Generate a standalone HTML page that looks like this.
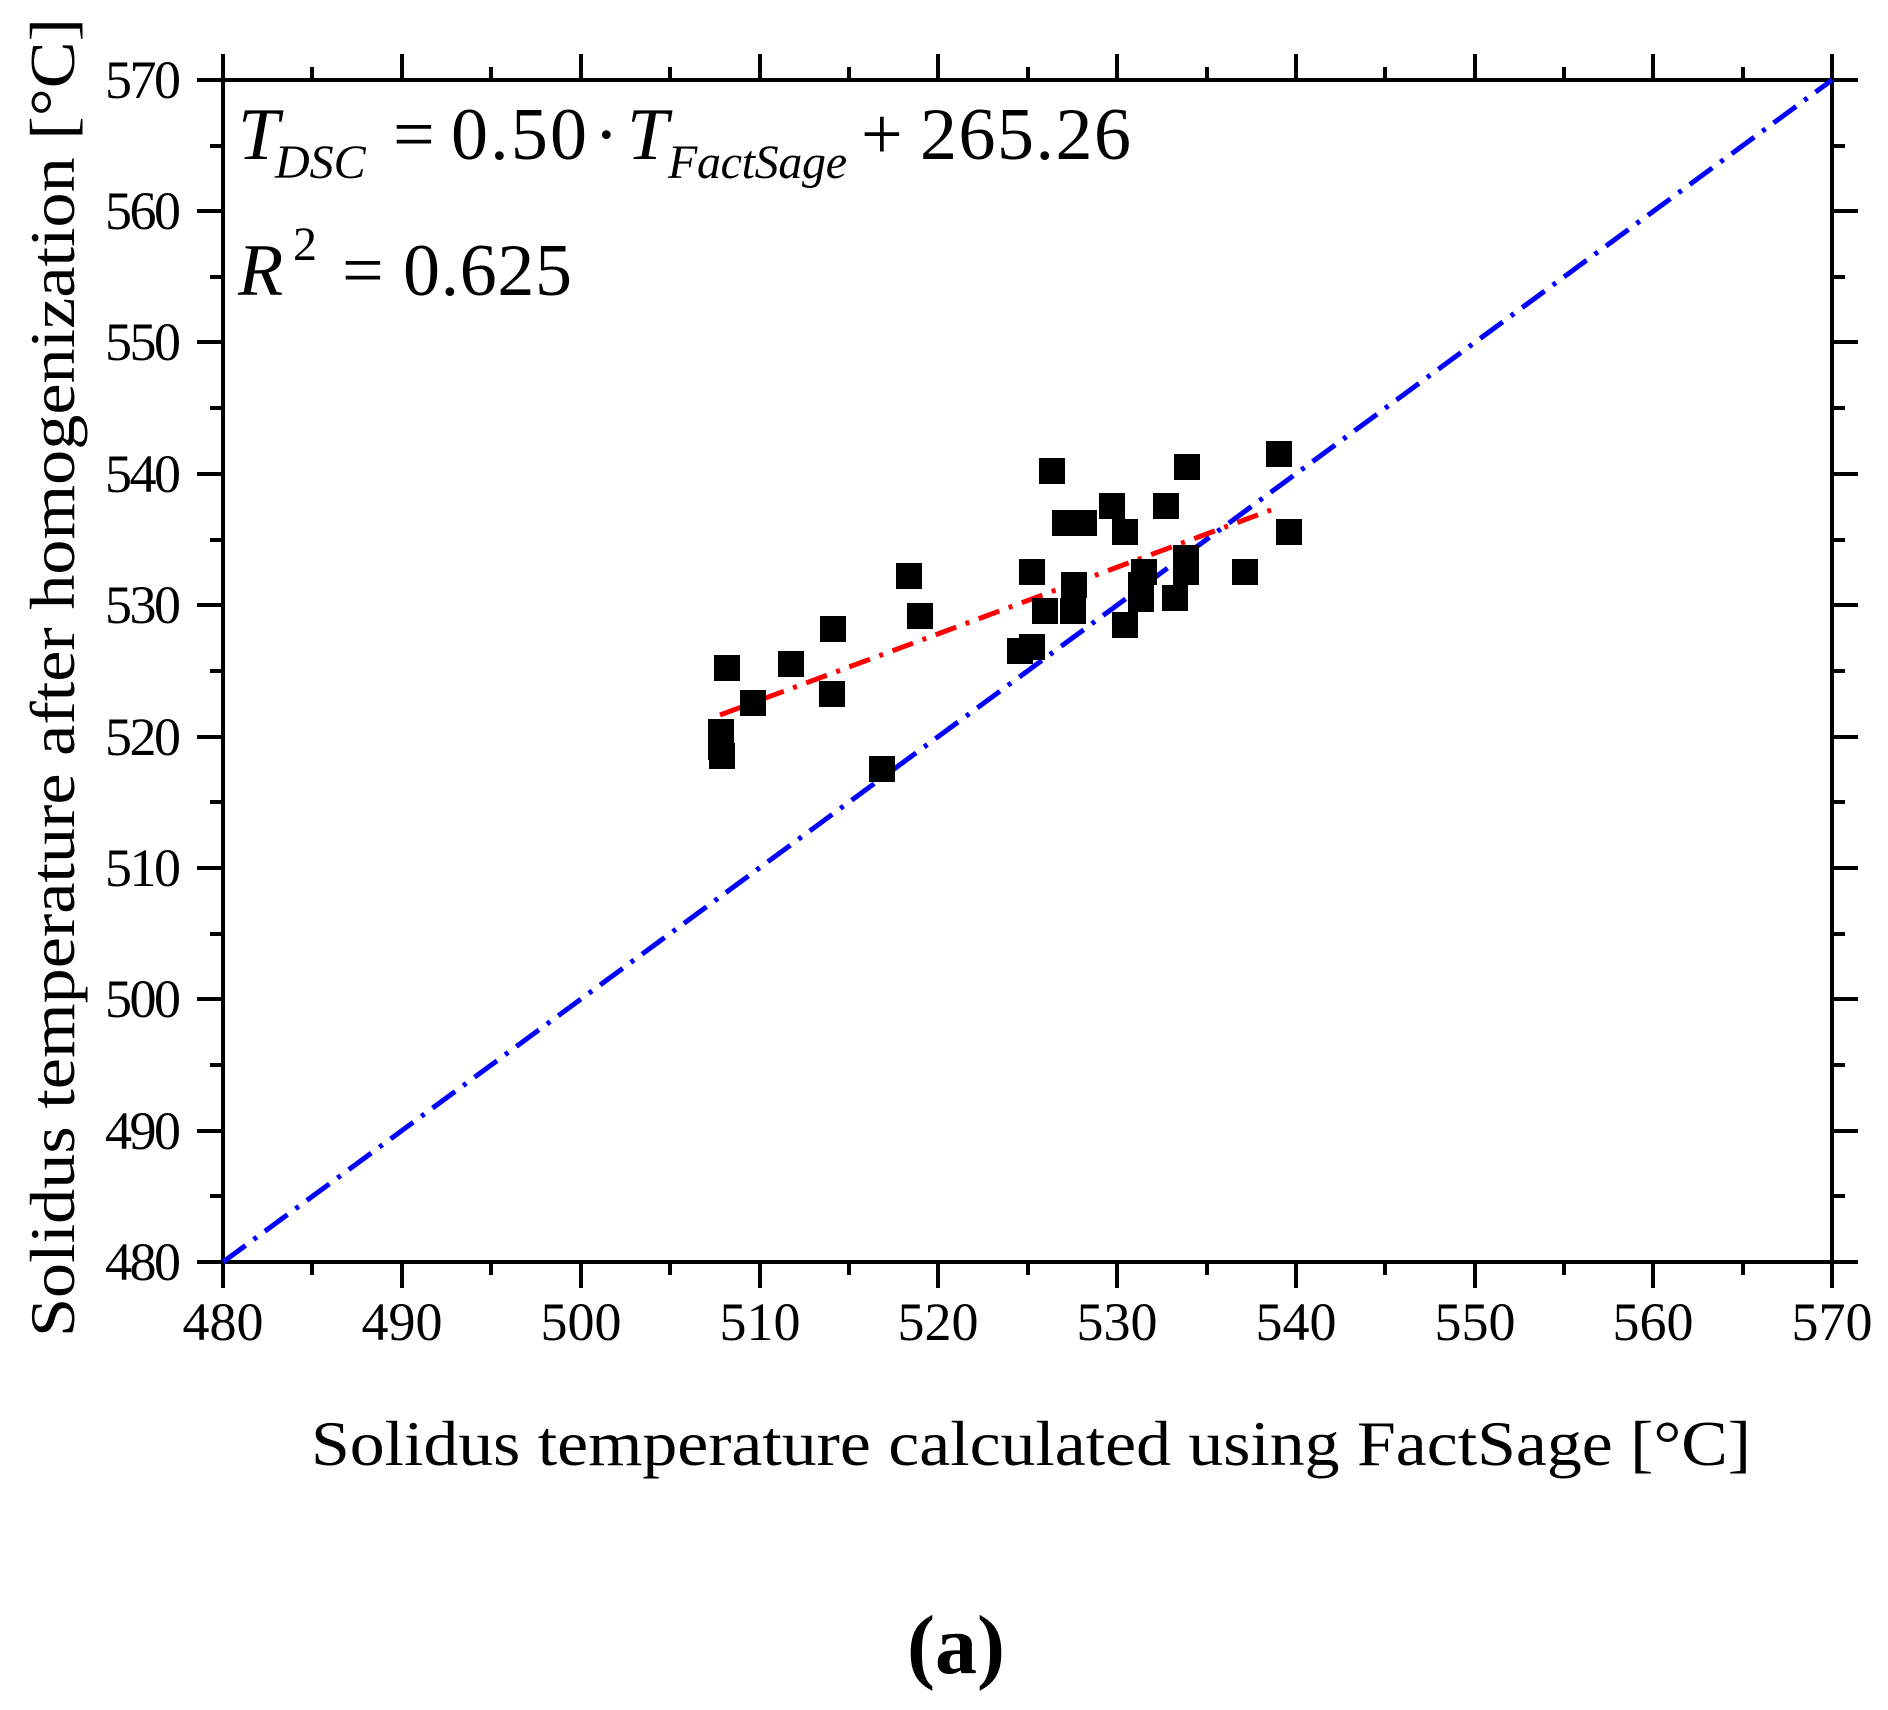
<!DOCTYPE html>
<html><head><style>html,body{margin:0;padding:0;background:#fff}svg{display:block}</style></head>
<body>
<svg width="1888" height="1710" viewBox="0 0 1888 1710" xmlns="http://www.w3.org/2000/svg" font-family="Liberation Serif, serif">
<rect width="1888" height="1710" fill="#fff"/>
<g stroke="#000" stroke-width="4" fill="none">
<rect x="223" y="80" width="1609" height="1182"/>
<path d="M223 1262v26M402 1262v26M581 1262v26M760 1262v26M938 1262v26M1117 1262v26M1296 1262v26M1475 1262v26M1653 1262v26M1832 1262v26
M312 1262v13M491 1262v13M670 1262v13M849 1262v13M1028 1262v13M1207 1262v13M1385 1262v13M1564 1262v13M1743 1262v13
M223 80v-26M402 80v-26M581 80v-26M760 80v-26M938 80v-26M1117 80v-26M1296 80v-26M1475 80v-26M1653 80v-26M1832 80v-26
M312 80v-13M491 80v-13M670 80v-13M849 80v-13M1028 80v-13M1207 80v-13M1385 80v-13M1564 80v-13M1743 80v-13"/>
<path d="M223 80h-26M223 211h-26M223 342h-26M223 474h-26M223 605h-26M223 737h-26M223 868h-26M223 999h-26M223 1131h-26M223 1262h-26
M223 146h-13M223 277h-13M223 408h-13M223 540h-13M223 671h-13M223 802h-13M223 934h-13M223 1065h-13M223 1196h-13
M1832 80h26M1832 211h26M1832 342h26M1832 474h26M1832 605h26M1832 737h26M1832 868h26M1832 999h26M1832 1131h26M1832 1262h26
M1832 146h13M1832 277h13M1832 408h13M1832 540h13M1832 671h13M1832 802h13M1832 934h13M1832 1065h13M1832 1196h13"/>
</g>
<g font-size="54" text-anchor="end">
<text x="181" y="98" textLength="76">570</text><text x="181" y="229" textLength="76">560</text>
<text x="181" y="360" textLength="76">550</text><text x="181" y="492" textLength="76">540</text>
<text x="181" y="623" textLength="76">530</text><text x="181" y="755" textLength="76">520</text>
<text x="181" y="886" textLength="76">510</text><text x="181" y="1017" textLength="76">500</text>
<text x="181" y="1149" textLength="76">490</text><text x="181" y="1280" textLength="76">480</text>
</g>
<g font-size="54" text-anchor="middle">
<text x="223" y="1340">480</text><text x="402" y="1340">490</text><text x="581" y="1340">500</text>
<text x="760" y="1340">510</text><text x="938" y="1340">520</text><text x="1117" y="1340">530</text>
<text x="1296" y="1340">540</text><text x="1475" y="1340">550</text><text x="1653" y="1340">560</text>
<text x="1832" y="1340">570</text>
</g>
<text x="311" y="1465" font-size="64" textLength="1440" lengthAdjust="spacingAndGlyphs">Solidus temperature calculated using FactSage [°C]</text>
<text transform="translate(74,1337) rotate(-90)" font-size="64" textLength="1319" lengthAdjust="spacingAndGlyphs">Solidus temperature after homogenization [°C]</text>
<text x="956" y="1673" font-size="84" text-anchor="middle" font-weight="bold">(a)</text>
<g font-size="74">
<text x="238" y="159" font-style="italic">T</text>
<text x="275" y="178" font-size="48" font-style="italic">DSC</text>
<text x="393" y="159">=</text>
<text x="451" y="159" textLength="136">0.50</text>
<text x="594" y="159">·</text>
<text x="627" y="159" font-style="italic">T</text>
<text x="668" y="178" font-size="48" font-style="italic" textLength="179">FactSage</text>
<text x="861" y="159">+</text>
<text x="920" y="159" textLength="211">265.26</text>
<text x="238" y="295" font-style="italic">R</text>
<text x="293" y="260" font-size="48">2</text>
<text x="342" y="295">=</text>
<text x="403" y="295" textLength="169">0.625</text>
</g>
<line x1="223" y1="1262" x2="1832" y2="80" stroke="#0000ff" stroke-width="5" stroke-dasharray="28,10,4,10"/>
<line x1="720" y1="715" x2="1279" y2="507" stroke="#ff0000" stroke-width="5" stroke-dasharray="22,10,4,10"/>
<g fill="#000">
<rect x="1039" y="458" width="26" height="26"/>
<rect x="1174" y="454" width="26" height="26"/>
<rect x="1266" y="441" width="26" height="26"/>
<rect x="1099" y="493" width="26" height="26"/>
<rect x="1052" y="510" width="26" height="26"/>
<rect x="1071" y="510" width="26" height="26"/>
<rect x="1153" y="493" width="26" height="26"/>
<rect x="1112" y="519" width="26" height="26"/>
<rect x="1276" y="519" width="26" height="26"/>
<rect x="1019" y="559" width="26" height="26"/>
<rect x="1131" y="559" width="26" height="26"/>
<rect x="1173" y="545" width="26" height="26"/>
<rect x="1173" y="559" width="26" height="26"/>
<rect x="1232" y="559" width="26" height="26"/>
<rect x="896" y="563" width="26" height="26"/>
<rect x="907" y="603" width="26" height="26"/>
<rect x="1061" y="572" width="26" height="26"/>
<rect x="1128" y="572" width="26" height="26"/>
<rect x="1128" y="586" width="26" height="26"/>
<rect x="1162" y="585" width="26" height="26"/>
<rect x="1032" y="598" width="26" height="26"/>
<rect x="1060" y="598" width="26" height="26"/>
<rect x="1112" y="612" width="26" height="26"/>
<rect x="1019" y="634" width="26" height="26"/>
<rect x="1007" y="638" width="26" height="26"/>
<rect x="820" y="616" width="26" height="26"/>
<rect x="778" y="651" width="26" height="26"/>
<rect x="714" y="655" width="26" height="26"/>
<rect x="740" y="690" width="26" height="26"/>
<rect x="819" y="681" width="26" height="26"/>
<rect x="708" y="719" width="26" height="26"/>
<rect x="708" y="734" width="26" height="26"/>
<rect x="709" y="743" width="26" height="26"/>
<rect x="869" y="756" width="26" height="26"/>
</g>
</svg>
</body></html>
